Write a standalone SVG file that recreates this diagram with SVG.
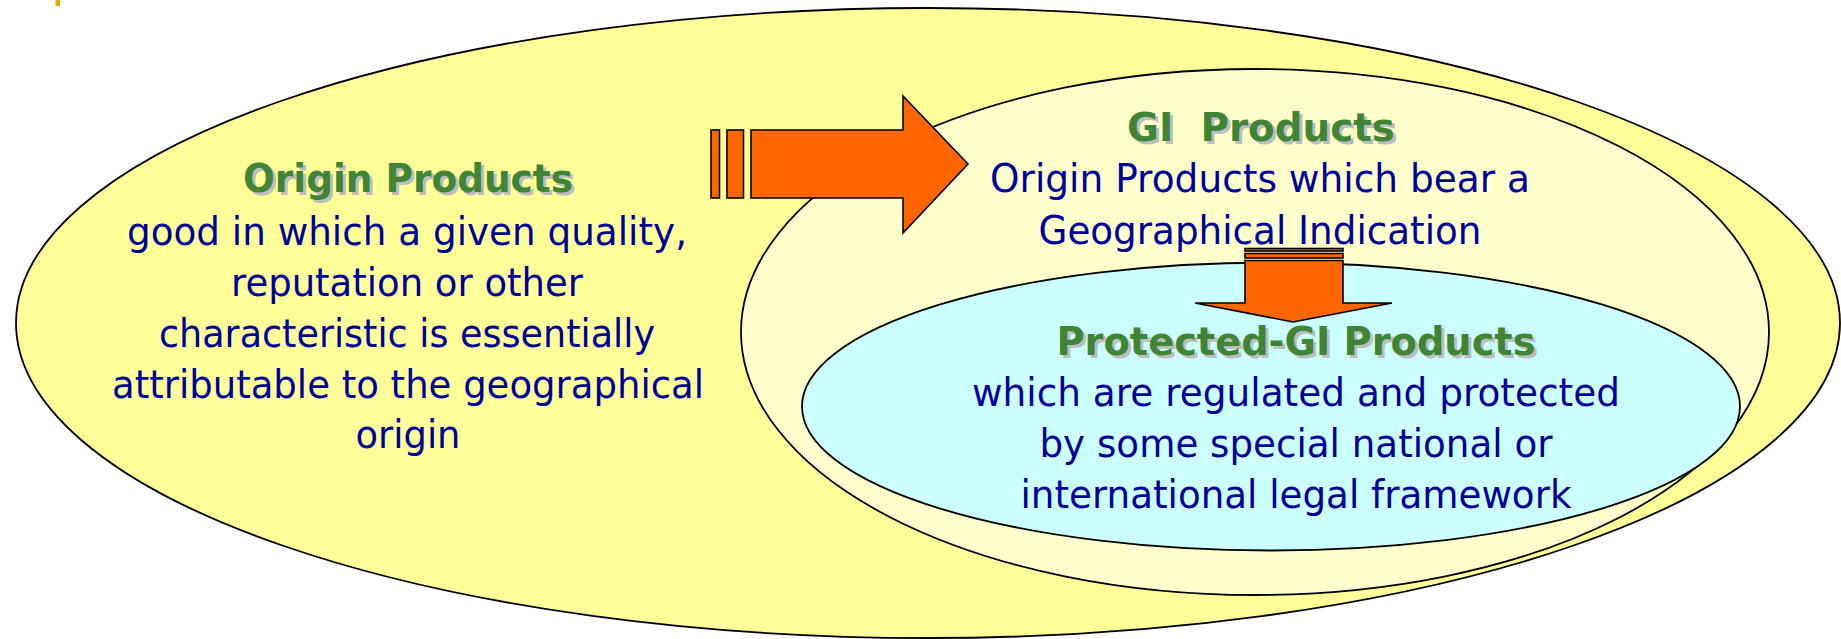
<svg xmlns="http://www.w3.org/2000/svg" width="1841" height="639" viewBox="0 0 1841 639">
  <style>
    .outline { stroke: #000; stroke-width: 1.8; }
    .arrow { fill: #FF6600; stroke: #000; stroke-width: 1.6; stroke-linejoin: miter; }
    .head { font-family: "DejaVu Sans", Verdana, sans-serif; font-weight: bold; font-size: 38.5px; text-anchor: middle; }
    .headfg { fill: #408535; }
    .headsh { fill: #BDBDBD; }
    .body { font-family: "DejaVu Sans", Verdana, sans-serif; font-size: 39px; fill: #000099; text-anchor: middle; }
  </style>
  <rect x="0" y="0" width="1841" height="639" fill="#FFFFFF"/>
  <rect x="55.5" y="0" width="4.5" height="6" fill="#E0A800"/>

  <g id="origin-products">
    <ellipse class="outline" cx="928" cy="323" rx="912" ry="315" fill="#FFFF99"/>
    <text class="head headsh" x="411" y="195" textLength="330" lengthAdjust="spacingAndGlyphs">Origin Products</text>
    <text class="head headfg" x="408" y="192" textLength="330" lengthAdjust="spacingAndGlyphs">Origin Products</text>
    <text class="body" x="407" y="245" textLength="560" lengthAdjust="spacingAndGlyphs">good in which a given quality,</text>
    <text class="body" x="407" y="296" textLength="352" lengthAdjust="spacingAndGlyphs">reputation or other</text>
    <text class="body" x="407" y="347" textLength="496" lengthAdjust="spacingAndGlyphs">characteristic is essentially</text>
    <text class="body" x="408" y="398" textLength="592" lengthAdjust="spacingAndGlyphs">attributable to the geographical</text>
    <text class="body" x="408" y="448" textLength="105" lengthAdjust="spacingAndGlyphs">origin</text>
  </g>

  <g id="gi-products">
    <ellipse class="outline" cx="1255" cy="332" rx="514" ry="263" fill="#FFFFCC"/>
    <text class="head headsh" x="1264" y="144" textLength="268" lengthAdjust="spacingAndGlyphs" xml:space="preserve">GI  Products</text>
    <text class="head headfg" x="1261" y="141" textLength="268" lengthAdjust="spacingAndGlyphs" xml:space="preserve">GI  Products</text>
    <text class="body" x="1260" y="192" textLength="540" lengthAdjust="spacingAndGlyphs">Origin Products which bear a</text>
    <text class="body" x="1260" y="244" textLength="443" lengthAdjust="spacingAndGlyphs">Geographical Indication</text>
  </g>

  <g id="protected-gi-products">
    <ellipse class="outline" cx="1271" cy="406.5" rx="469" ry="144" fill="#CCFFFF"/>
    <text class="head headsh" x="1299" y="358" textLength="479" lengthAdjust="spacingAndGlyphs">Protected-GI Products</text>
    <text class="head headfg" x="1296" y="355" textLength="479" lengthAdjust="spacingAndGlyphs">Protected-GI Products</text>
    <text class="body" x="1296" y="406" textLength="648" lengthAdjust="spacingAndGlyphs">which are regulated and protected</text>
    <text class="body" x="1296" y="457" textLength="513" lengthAdjust="spacingAndGlyphs">by some special national or</text>
    <text class="body" x="1296" y="508" textLength="551" lengthAdjust="spacingAndGlyphs">international legal framework</text>
  </g>

  <g id="connectors">
    <g id="arrow-origin-to-gi">
      <rect class="arrow" x="711" y="130" width="8.5" height="68"/>
      <rect class="arrow" x="727" y="130" width="16.5" height="68"/>
      <path class="arrow" d="M751,130 H903 V96 L968,164 L903,233 V198 H751 Z"/>
    </g>
    <g id="arrow-gi-to-protected">
      <rect class="arrow" x="1245" y="248.5" width="98" height="2.5"/>
      <rect class="arrow" x="1245" y="253.5" width="98" height="4.5"/>
      <path class="arrow" d="M1245,260.5 H1343 V303 H1392 L1293,322 L1195,303 H1245 Z"/>
    </g>
  </g>
</svg>
